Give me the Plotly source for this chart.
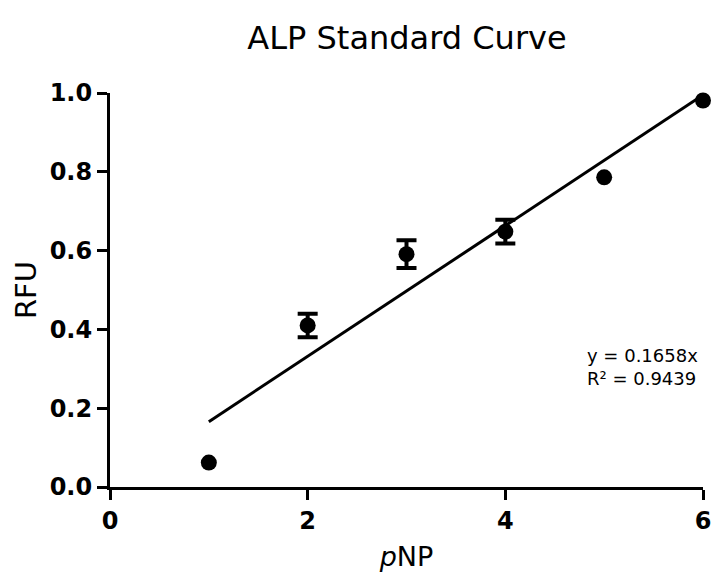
import plotly.graph_objects as go

pnp = [1, 2, 3, 4, 5, 6]
rfu = [0.062, 0.410, 0.591, 0.648, 0.786, 0.981]
rfu_err = [0.0, 0.030, 0.035, 0.030, 0.0, 0.0]
slope = 0.1658
fit_x = [1, 6]
fit_y = [slope * v for v in fit_x]
x_ticks = [0, 2, 4, 6]
y_ticks = [0.0, 0.2, 0.4, 0.6, 0.8, 1.0]

font = "DejaVu Sans, Arial, sans-serif"

err_idx = [i for i, e in enumerate(rfu_err) if e > 0]

fig = go.Figure()
fig.add_trace(go.Scatter(
    x=fit_x, y=fit_y, mode="lines",
    line=dict(color="black", width=3),
    showlegend=False, cliponaxis=False,
))
fig.add_trace(go.Scatter(
    x=[pnp[i] for i in err_idx], y=[rfu[i] for i in err_idx], mode="markers",
    marker=dict(color="black", size=1, opacity=0),
    error_y=dict(type="data", array=[rfu_err[i] for i in err_idx], visible=True,
                 color="black", thickness=4, width=10),
    showlegend=False, cliponaxis=False, hoverinfo="skip",
))
fig.add_trace(go.Scatter(
    x=pnp, y=rfu, mode="markers",
    marker=dict(color="black", size=16, symbol="circle"),
    showlegend=False, cliponaxis=False,
))

fig.add_annotation(
    x=4.81, y=0.305, xref="x", yref="y",
    text="y = 0.1658x<br>R² = 0.9439",
    showarrow=False, xanchor="left", yanchor="middle", align="left",
    font=dict(family=font, size=18, color="black"),
)

fig.update_layout(
    width=711, height=576,
    margin=dict(l=110, r=8, t=93, b=89, autoexpand=False),
    paper_bgcolor="white", plot_bgcolor="white",
    title=dict(text="ALP Standard Curve", x=407 / 711, xanchor="center",
               y=1 - 38 / 576, yanchor="middle",
               font=dict(family=font, size=32, color="black")),
    font=dict(family=font, color="black"),
)
fig.update_xaxes(
    range=[0, 6], tickvals=x_ticks, ticktext=[str(v) for v in x_ticks],
    showgrid=False, zeroline=False, showline=True, linecolor="black", linewidth=3,
    ticks="outside", ticklen=10, tickwidth=3, tickcolor="black",
    ticklabeloverflow="allow", automargin=False,
    tickfont=dict(family=font, size=24, color="black", weight="bold"),
    title=dict(text="<i>p</i>NP", font=dict(family=font, size=27, color="black"), standoff=14),
)
fig.update_yaxes(
    range=[0, 1], tickvals=y_ticks, ticktext=[f"{v:.1f}" for v in y_ticks],
    showgrid=False, zeroline=False, showline=True, linecolor="black", linewidth=3,
    ticks="outside", ticklen=10, tickwidth=3, tickcolor="black", automargin=False,
    tickfont=dict(family=font, size=24, color="black", weight="bold"),
    title=dict(text="RFU", font=dict(family=font, size=29, color="black"), standoff=5),
)

fig.write_html("out.html",
               config={"displayModeBar": False},
               post_script="document.body.style.margin='0';document.body.style.overflow='hidden';")
